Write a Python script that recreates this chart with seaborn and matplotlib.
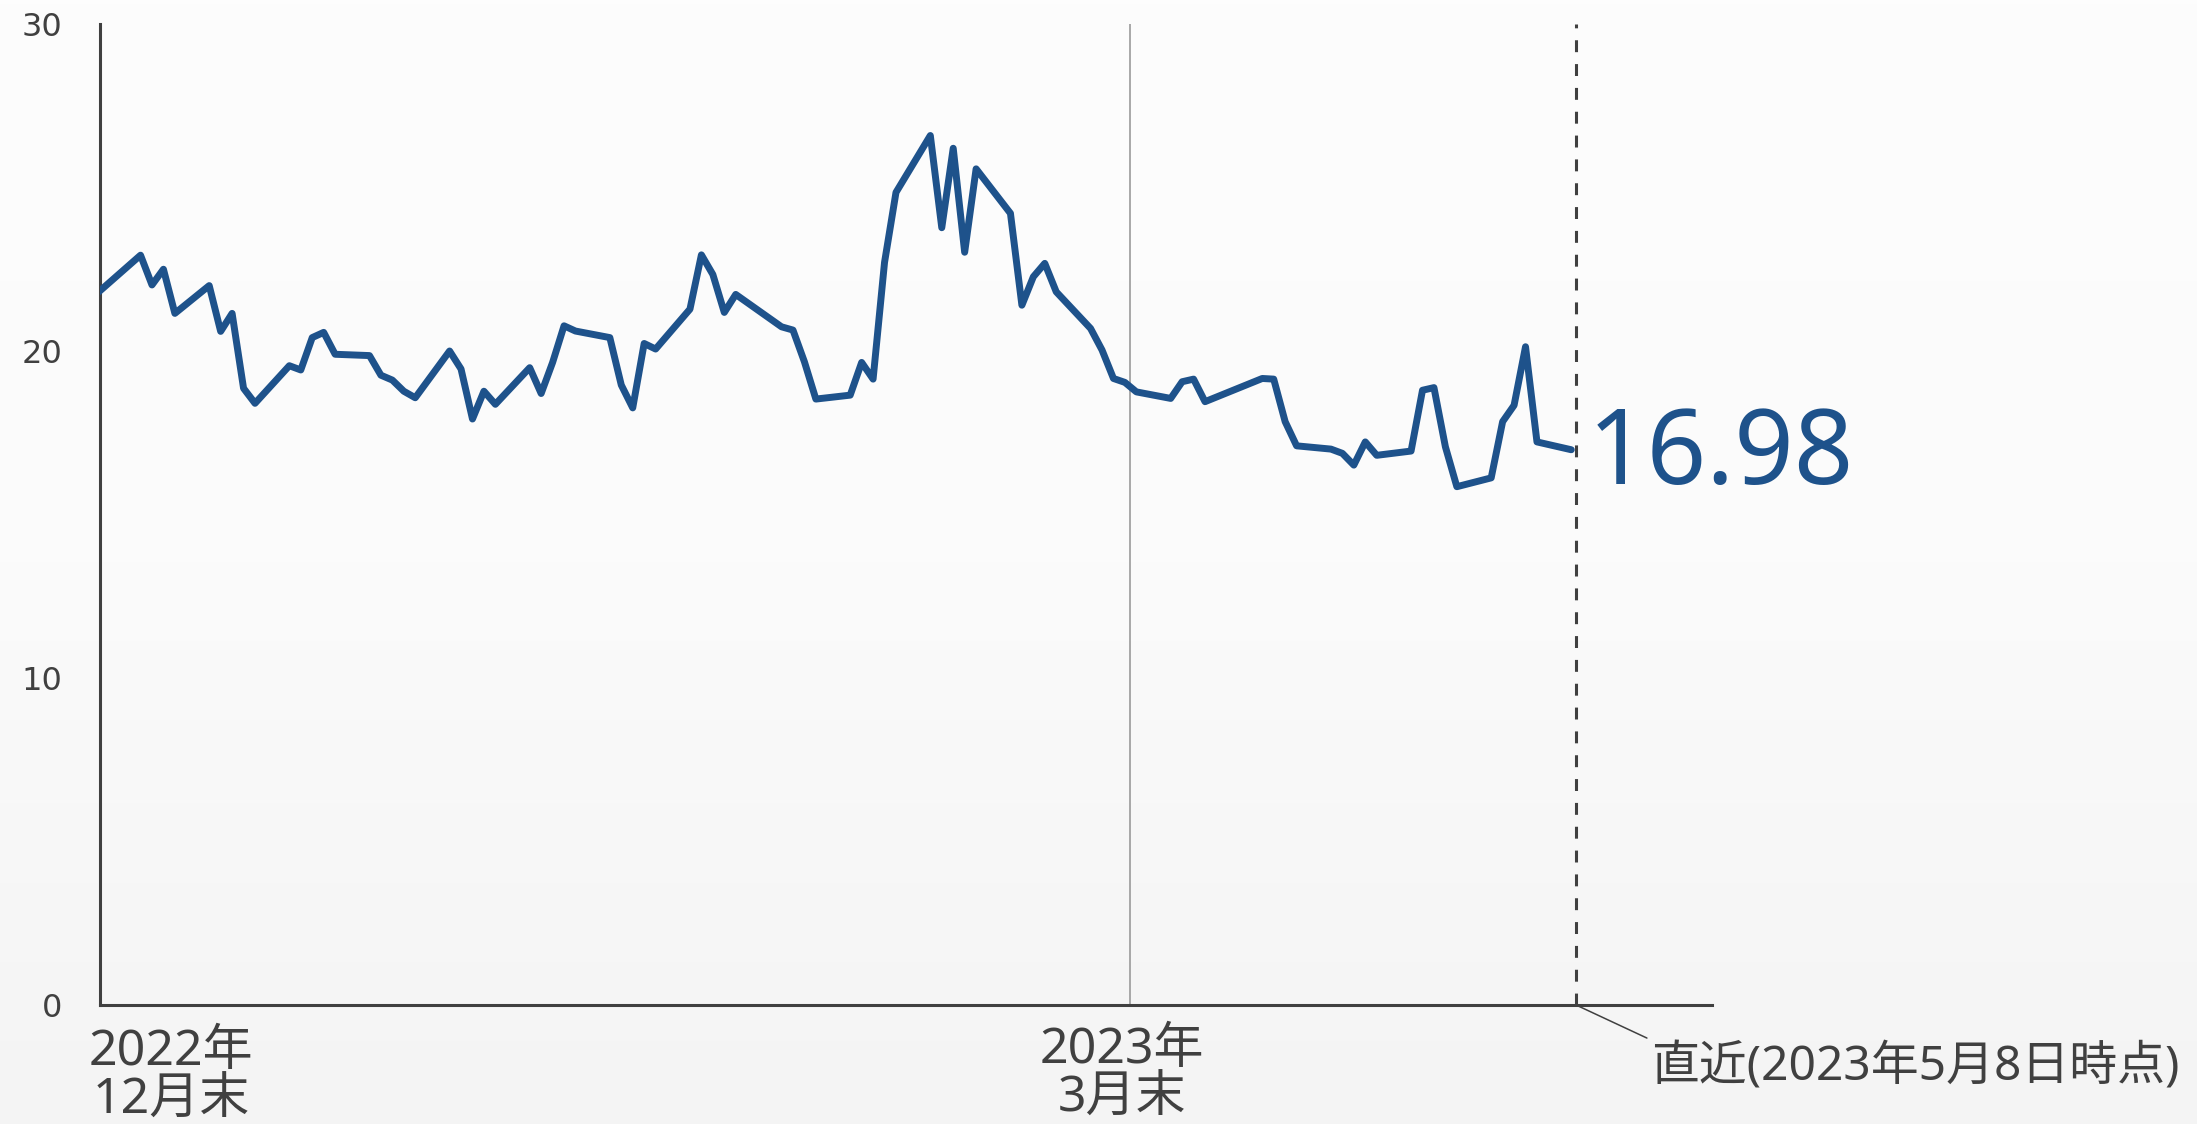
import numpy as np
import pandas as pd
import matplotlib
matplotlib.use("Agg")
import matplotlib.pyplot as plt
from matplotlib.colors import LinearSegmentedColormap
import seaborn as sns

# ---- data ----
dates = [
    "2022-12-30",
    "2023-01-03", "2023-01-04", "2023-01-05", "2023-01-06",
    "2023-01-09", "2023-01-10", "2023-01-11", "2023-01-12", "2023-01-13",
    "2023-01-16", "2023-01-17", "2023-01-18", "2023-01-19", "2023-01-20",
    "2023-01-23", "2023-01-24", "2023-01-25", "2023-01-26", "2023-01-27",
    "2023-01-30", "2023-01-31", "2023-02-01", "2023-02-02", "2023-02-03",
    "2023-02-06", "2023-02-07", "2023-02-08", "2023-02-09", "2023-02-10",
    "2023-02-13", "2023-02-14", "2023-02-15", "2023-02-16", "2023-02-17",
    "2023-02-20", "2023-02-21", "2023-02-22", "2023-02-23", "2023-02-24",
    "2023-02-28", "2023-03-01", "2023-03-02", "2023-03-03",
    "2023-03-06", "2023-03-07", "2023-03-08", "2023-03-09", "2023-03-10",
    "2023-03-13", "2023-03-14", "2023-03-15", "2023-03-16", "2023-03-17",
    "2023-03-20", "2023-03-21", "2023-03-22", "2023-03-23", "2023-03-24",
    "2023-03-27", "2023-03-28", "2023-03-29", "2023-03-30", "2023-03-31",
    "2023-04-03", "2023-04-04", "2023-04-05", "2023-04-06",
    "2023-04-11", "2023-04-12", "2023-04-13", "2023-04-14",
    "2023-04-17", "2023-04-18", "2023-04-19", "2023-04-20", "2023-04-21",
    "2023-04-24", "2023-04-25", "2023-04-26", "2023-04-27", "2023-04-28",
    "2023-05-01", "2023-05-02", "2023-05-03", "2023-05-04", "2023-05-05",
    "2023-05-08",
]
values = [
    21.70,
    22.93, 22.02, 22.50, 21.15,
    22.00, 20.60, 21.15, 18.86, 18.40,
    19.55, 19.42, 20.41, 20.57, 19.90,
    19.86, 19.26, 19.11, 18.77, 18.57,
    20.00, 19.45, 17.92, 18.77, 18.37,
    19.49, 18.70, 19.65, 20.77, 20.61,
    20.41, 18.96, 18.26, 20.23, 20.06,
    21.28, 22.94, 22.34, 21.18, 21.73,
    20.74, 20.64, 19.67, 18.53,
    18.65, 19.65, 19.14, 22.71, 24.85,
    26.59, 23.77, 26.20, 23.02, 25.57,
    24.21, 21.40, 22.27, 22.68, 21.81,
    20.69, 20.03, 19.16, 19.04, 18.75,
    18.55, 19.06, 19.14, 18.45,
    19.16, 19.14, 17.84, 17.10,
    17.00, 16.87, 16.51, 17.22, 16.81,
    16.94, 18.80, 18.88, 17.07, 15.85,
    16.12, 17.84, 18.34, 20.13, 17.22,
    16.98,
]
y_ticks = [0, 10, 20, 30]
latest_label = "16.98"
x_label_start = ["2022年", "12月末"]
x_label_mid = ["2023年", "3月末"]
latest_note = "直近(2023年5月8日時点)"
mid_marker_date = "2023-03-30 10:00"
latest_marker_date = "2023-05-08 10:00"
x_range = ("2022-12-30 11:00", "2023-05-20 07:00")

BLUE = "#1e528b"
DARK = "#404040"
TEXT_FONT = ["Noto Sans", "Noto Sans CJK JP", "DejaVu Sans"]

df = pd.DataFrame({"date": pd.to_datetime(dates), "value": values})

sns.set_theme(style="white")
plt.rcParams["font.family"] = TEXT_FONT

W, H = 2197, 1124
fig = plt.figure(figsize=(W / 100, H / 100), dpi=100)

# subtle background gradient
bg = fig.add_axes([0, 0, 1, 1], zorder=-10)
grad = np.linspace(0, 1, 256).reshape(-1, 1)
cmap = LinearSegmentedColormap.from_list("bg", ["#fdfdfd", "#fbfbfb", "#f4f4f4"])
bg.imshow(grad, aspect="auto", cmap=cmap, extent=[0, 1, 0, 1], origin="upper")
bg.set_axis_off()

ax = fig.add_axes([100 / W, 1 - 1005 / H, (1712 - 100) / W, (1005 - 24) / H])
ax.patch.set_alpha(0)

sns.lineplot(data=df, x="date", y="value", ax=ax, color=BLUE, linewidth=5.0,
             solid_joinstyle="round", solid_capstyle="round", zorder=5)

ax.set_xlim(pd.Timestamp(x_range[0]), pd.Timestamp(x_range[1]))
ax.set_ylim(0, 30)
ax.set_yticks(y_ticks)
ax.set_yticklabels([str(t) for t in y_ticks], family="DejaVu Sans")
ax.set_xticks([])
ax.set_xlabel("")
ax.set_ylabel("")
ax.tick_params(axis="y", length=0, pad=27, labelsize=23, colors=DARK)
ax.grid(False)
for s in ["top", "right"]:
    ax.spines[s].set_visible(False)
for s in ["left", "bottom"]:
    ax.spines[s].set_color(DARK)
    ax.spines[s].set_linewidth(2.2)

mid_x = pd.Timestamp(mid_marker_date)
latest_x = pd.Timestamp(latest_marker_date)
ax.axvline(mid_x, color="#9a9a9a", linewidth=1.2, zorder=2)
ax.axvline(latest_x, color=DARK, linewidth=2.2, linestyle=(0, (3.9, 3.9)), zorder=2)

# latest value label
ax.annotate(latest_label, xy=(df["date"].iloc[-1], df["value"].iloc[-1]),
            xytext=(12, -24.5), textcoords="offset points",
            fontsize=75, fontweight="medium", color=BLUE,
            ha="left", va="baseline")

# x category labels
start_x = pd.Timestamp(x_range[0])
for txt, off in zip(x_label_start, [-43.5, -78.5]):
    ax.annotate(txt, xy=(start_x, 0), xycoords=("data", "axes fraction"),
                xytext=(51, off), textcoords="offset points",
                fontsize=36, color=DARK, ha="center", va="baseline",
                annotation_clip=False)
for txt, off in zip(x_label_mid, [-42, -77]):
    ax.annotate(txt, xy=(mid_x, 0), xycoords=("data", "axes fraction"),
                xytext=(-5.8, off), textcoords="offset points",
                fontsize=36, color=DARK, ha="center", va="baseline",
                annotation_clip=False)

# latest note with leader line
ax.annotate("", xy=(latest_x, 0), xycoords=("data", "axes fraction"),
            xytext=(51, -23.8), textcoords="offset points",
            arrowprops=dict(arrowstyle="-", color=DARK, lw=1.1,
                            shrinkA=0, shrinkB=0),
            annotation_clip=False)
ax.annotate(latest_note, xy=(latest_x, 0), xycoords=("data", "axes fraction"),
            xytext=(54, -54.5), textcoords="offset points",
            fontsize=34.5, color=DARK, ha="left", va="baseline",
            annotation_clip=False)

fig.savefig("out.png", dpi=100, facecolor=fig.get_facecolor())
